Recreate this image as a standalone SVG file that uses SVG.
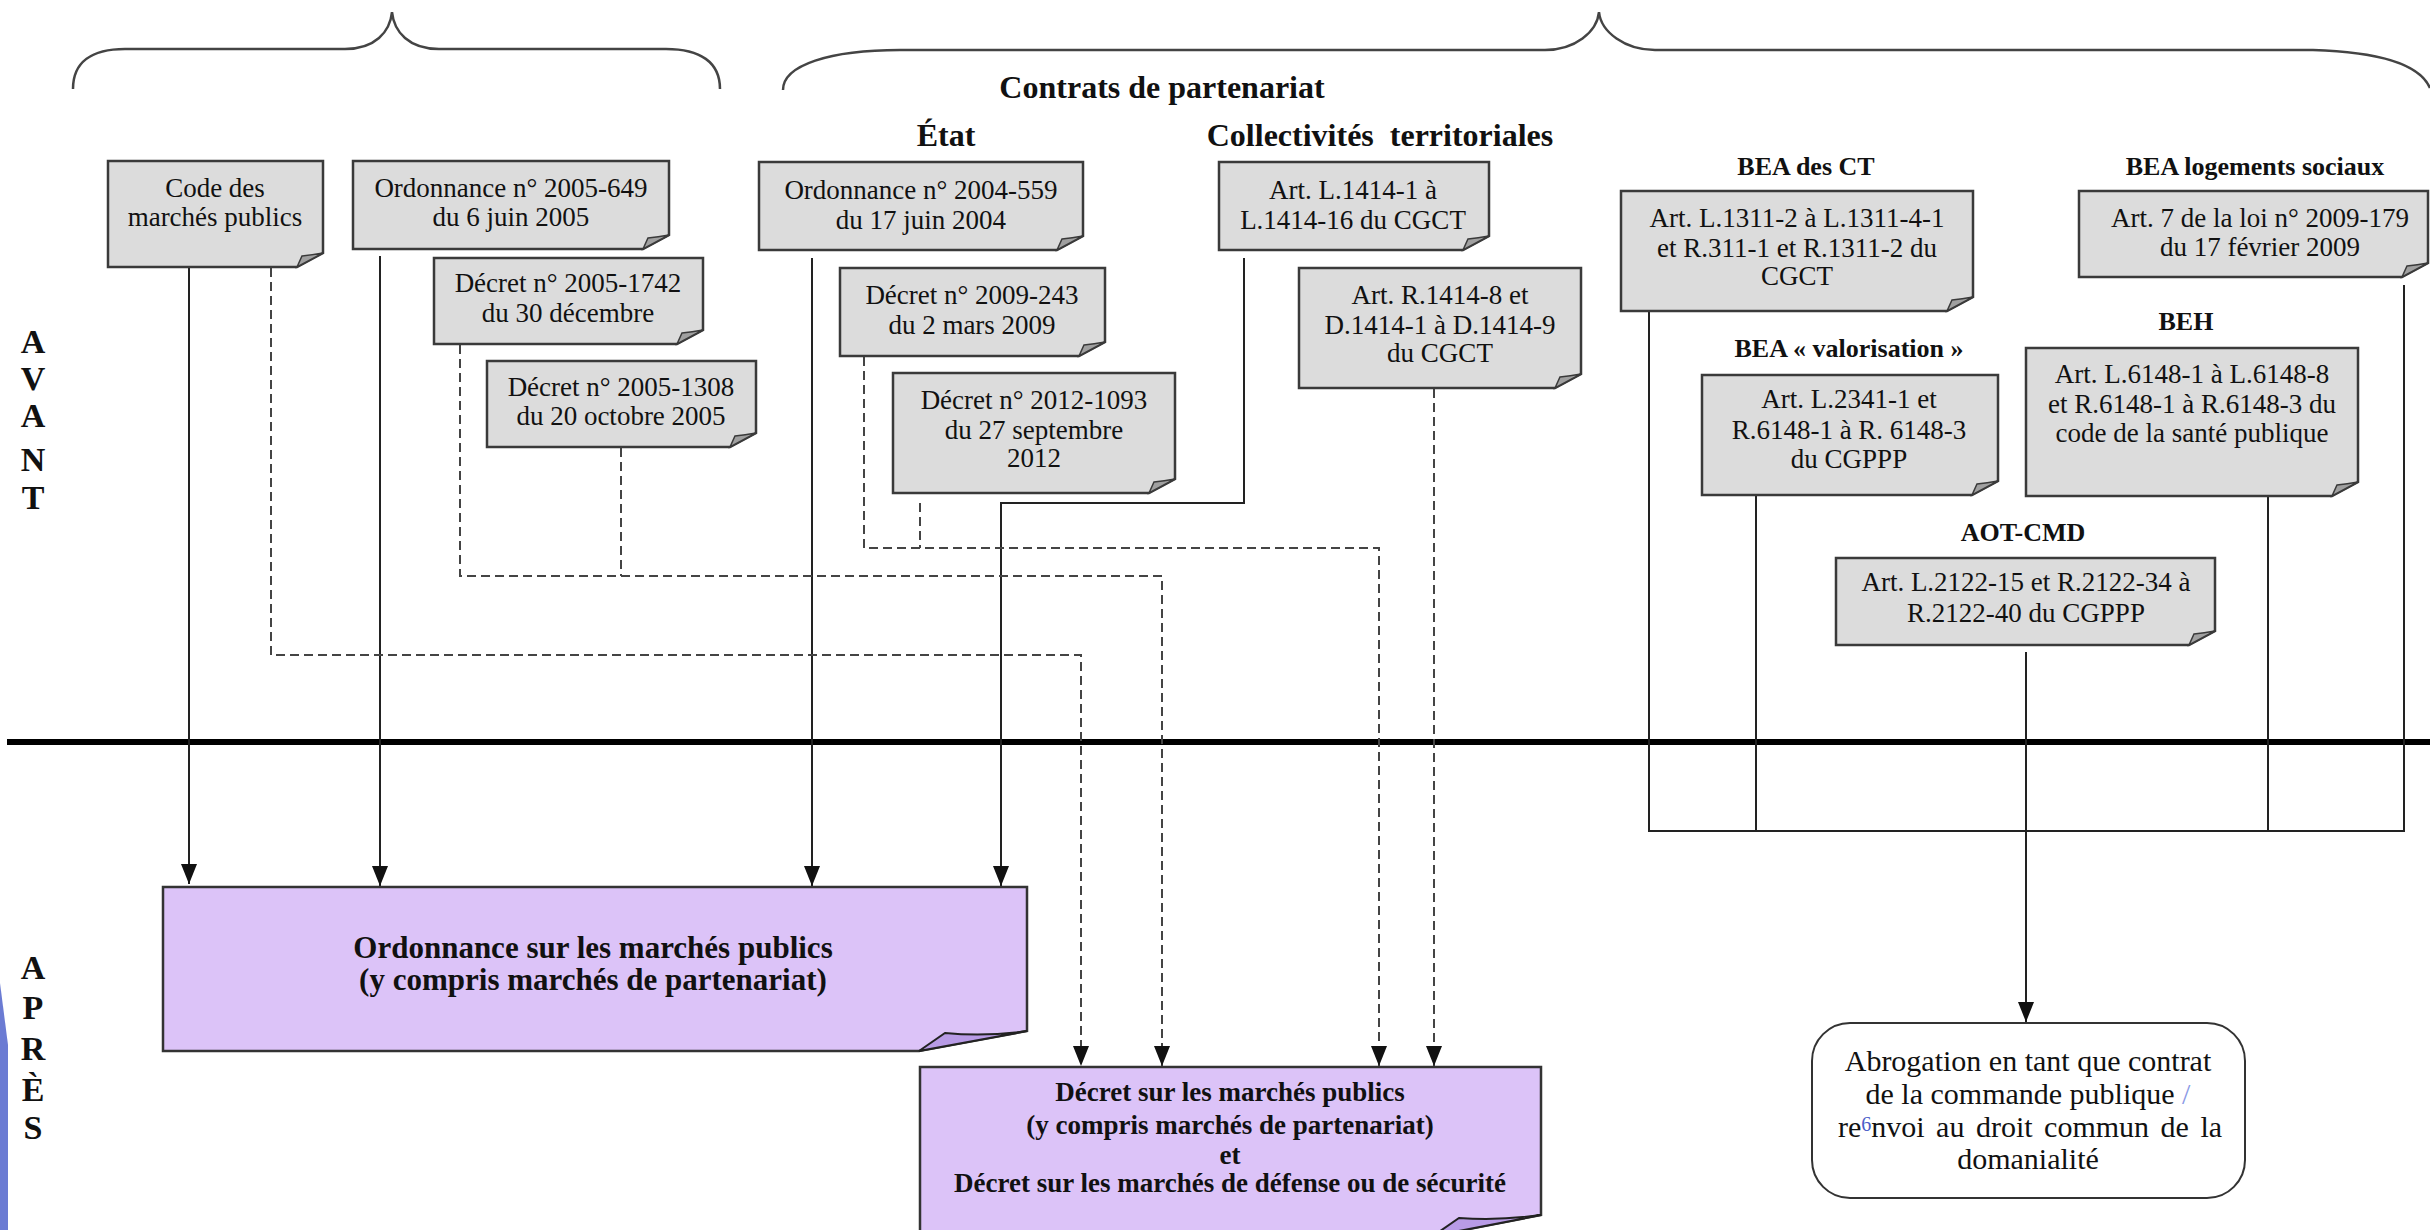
<svg xmlns="http://www.w3.org/2000/svg" width="2430" height="1230" viewBox="0 0 2430 1230">
<defs>
<style>
.t{font-family:"Liberation Serif","Times New Roman",serif;font-size:27px;fill:#111;text-anchor:middle}
.b{font-family:"Liberation Serif","Times New Roman",serif;font-weight:bold;fill:#111;text-anchor:middle}
.h{font-size:32px}
.l{font-size:26px}
.side{font-size:34px}
.big{font-size:31px}
.mid{font-size:27px}
.ab{font-family:"Liberation Serif","Times New Roman",serif;font-size:30px;fill:#111;text-anchor:middle}
.box{fill:#dcdcdc;stroke:#3a3a3a;stroke-width:2.5}
.flap{fill:#a0a0a0;stroke:#3a3a3a;stroke-width:1.5}
.pbox{fill:#dcc3f8;stroke:#333;stroke-width:2.5}
.pflap{fill:#b89be6;stroke:#222;stroke-width:2}
.sol{fill:none;stroke:#222;stroke-width:2}
.dash{fill:none;stroke:#444;stroke-width:2;stroke-dasharray:9 5}
.brace{fill:none;stroke:#444;stroke-width:2.5}
</style>
<marker id="arr" markerUnits="userSpaceOnUse" markerWidth="22" markerHeight="18" viewBox="0 -9 22 18" refX="20" refY="0" orient="auto"><path d="M0,-8 L20,0 L0,8 Z" fill="#111"/></marker>
</defs>
<rect width="2430" height="1230" fill="#fff"/>

<g id="braces">
<path class="brace" d="M73,89 C73,62 92,49 125,49 L345,49 C375,49 390,32 392,12 C394,32 409,49 439,49 L666,49 C700,49 720,62 720,89"/>
<path class="brace" d="M783,90 C783,65 830,50 900,50 L1545,50 C1575,50 1597,32 1599,12 C1601,32 1625,50 1655,50 L2313,50 C2380,52 2420,65 2430,88"/>
</g>

<g id="headings">
<text class="b h" x="1162" y="98">Contrats de partenariat</text>
<text class="b h" x="946" y="146">État</text>
<text class="b h" x="1380" y="146" xml:space="preserve">Collectivités  territoriales</text>
<text class="b l" x="1806" y="175">BEA des CT</text>
<text class="b l" x="2255" y="175">BEA logements sociaux</text>
<text class="b l" x="2186" y="330">BEH</text>
<text class="b l" x="1849" y="357">BEA « valorisation »</text>
<text class="b l" x="2023" y="541">AOT-CMD</text>
</g>

<g id="side-labels">
<text class="b side" x="33" y="353">A</text>
<text class="b side" x="33" y="390">V</text>
<text class="b side" x="33" y="427">A</text>
<text class="b side" x="33" y="471">N</text>
<text class="b side" x="33" y="509">T</text>
<text class="b side" x="33" y="979">A</text>
<text class="b side" x="33" y="1019">P</text>
<text class="b side" x="33" y="1060">R</text>
<text class="b side" x="33" y="1101">È</text>
<text class="b side" x="33" y="1139">S</text>
<polygon points="0,983 0,1230 8,1230 8,1045" fill="#6b7bd3"/>
</g>

<g id="separator">
<line x1="7" y1="742" x2="2430" y2="742" stroke="#000" stroke-width="6"/>
</g>

<g id="connectors">
<path class="sol" d="M189,268 V884" marker-end="url(#arr)"/>
<path class="sol" d="M380,256 V886" marker-end="url(#arr)"/>
<path class="sol" d="M812,258 V886" marker-end="url(#arr)"/>
<path class="sol" d="M1244,258 V503 H1001 V886" marker-end="url(#arr)"/>
<path class="dash" d="M271,268 V655 H1081 V1066" marker-end="url(#arr)"/>
<path class="dash" d="M460,345 V576 H1162 V1066" marker-end="url(#arr)"/>
<path class="dash" d="M621,448 V576"/>
<path class="dash" d="M864,357 V548 H1379 V1066" marker-end="url(#arr)"/>
<path class="dash" d="M920,503 V548"/>
<path class="dash" d="M1434,389 V1066" marker-end="url(#arr)"/>
<path class="sol" d="M1649,311 V831 H2404 V285"/>
<path class="sol" d="M1756,496 V831"/>
<path class="sol" d="M2268,497 V831"/>
<path class="sol" d="M2026,652 V1022" marker-end="url(#arr)"/>
</g>

<g id="n-code">
<path class="box" d="M108,161 H323 V253 L297,267 H108 Z"/>
<path class="flap" d="M297,267 L302,256 Q312,255 323,253 Z"/>
<text class="t" x="215" y="197">Code des</text>
<text class="t" x="215" y="226">marchés publics</text>
</g>
<g id="n-ord649">
<path class="box" d="M353,161 H669 V235 L643,249 H353 Z"/>
<path class="flap" d="M643,249 L648,238 Q658,237 669,235 Z"/>
<text class="t" x="511" y="197">Ordonnance n° 2005-649</text>
<text class="t" x="511" y="226">du 6 juin 2005</text>
</g>
<g id="n-dec1742">
<path class="box" d="M434,258 H703 V330 L677,344 H434 Z"/>
<path class="flap" d="M677,344 L682,333 Q692,332 703,330 Z"/>
<text class="t" x="568" y="292">Décret n° 2005-1742</text>
<text class="t" x="568" y="322">du 30 décembre</text>
</g>
<g id="n-dec1308">
<path class="box" d="M487,361 H756 V433 L730,447 H487 Z"/>
<path class="flap" d="M730,447 L735,436 Q745,435 756,433 Z"/>
<text class="t" x="621" y="396">Décret n° 2005-1308</text>
<text class="t" x="621" y="425">du 20 octobre 2005</text>
</g>
<g id="n-ord559">
<path class="box" d="M759,162 H1083 V236 L1057,250 H759 Z"/>
<path class="flap" d="M1057,250 L1062,239 Q1072,238 1083,236 Z"/>
<text class="t" x="921" y="199">Ordonnance n° 2004-559</text>
<text class="t" x="921" y="229">du 17 juin 2004</text>
</g>
<g id="n-artL1414">
<path class="box" d="M1219,162 H1489 V236 L1463,250 H1219 Z"/>
<path class="flap" d="M1463,250 L1468,239 Q1478,238 1489,236 Z"/>
<text class="t" x="1353" y="199">Art. L.1414-1 à</text>
<text class="t" x="1353" y="229">L.1414-16 du CGCT</text>
</g>
<g id="n-dec243">
<path class="box" d="M840,268 H1105 V342 L1079,356 H840 Z"/>
<path class="flap" d="M1079,356 L1084,345 Q1094,344 1105,342 Z"/>
<text class="t" x="972" y="304">Décret n° 2009-243</text>
<text class="t" x="972" y="334">du 2 mars 2009</text>
</g>
<g id="n-dec1093">
<path class="box" d="M893,373 H1175 V479 L1149,493 H893 Z"/>
<path class="flap" d="M1149,493 L1154,482 Q1164,481 1175,479 Z"/>
<text class="t" x="1034" y="409">Décret n° 2012-1093</text>
<text class="t" x="1034" y="439">du 27 septembre</text>
<text class="t" x="1034" y="467">2012</text>
</g>
<g id="n-artR1414">
<path class="box" d="M1299,268 H1581 V374 L1555,388 H1299 Z"/>
<path class="flap" d="M1555,388 L1560,377 Q1570,376 1581,374 Z"/>
<text class="t" x="1440" y="304">Art. R.1414-8 et</text>
<text class="t" x="1440" y="334">D.1414-1 à D.1414-9</text>
<text class="t" x="1440" y="362">du CGCT</text>
</g>
<g id="n-beact">
<path class="box" d="M1621,191 H1973 V297 L1947,311 H1621 Z"/>
<path class="flap" d="M1947,311 L1952,300 Q1962,299 1973,297 Z"/>
<text class="t" x="1797" y="227">Art. L.1311-2 à L.1311-4-1</text>
<text class="t" x="1797" y="257">et R.311-1 et R.1311-2 du</text>
<text class="t" x="1797" y="285">CGCT</text>
</g>
<g id="n-bealog">
<path class="box" d="M2079,191 H2428 V263 L2402,277 H2079 Z"/>
<path class="flap" d="M2402,277 L2407,266 Q2417,265 2428,263 Z"/>
<text class="t" x="2260" y="227">Art. 7 de la loi n° 2009-179</text>
<text class="t" x="2260" y="256">du 17 février 2009</text>
</g>
<g id="n-beaval">
<path class="box" d="M1702,375 H1998 V481 L1972,495 H1702 Z"/>
<path class="flap" d="M1972,495 L1977,484 Q1987,483 1998,481 Z"/>
<text class="t" x="1849" y="408">Art. L.2341-1 et</text>
<text class="t" x="1849" y="439">R.6148-1 à R. 6148-3</text>
<text class="t" x="1849" y="468">du CGPPP</text>
</g>
<g id="n-beh">
<path class="box" d="M2026,348 H2358 V482 L2332,496 H2026 Z"/>
<path class="flap" d="M2332,496 L2337,485 Q2347,484 2358,482 Z"/>
<text class="t" x="2192" y="383">Art. L.6148-1 à L.6148-8</text>
<text class="t" x="2192" y="413">et R.6148-1 à R.6148-3 du</text>
<text class="t" x="2192" y="442">code de la santé publique</text>
</g>
<g id="n-aot">
<path class="box" d="M1836,558 H2215 V631 L2189,645 H1836 Z"/>
<path class="flap" d="M2189,645 L2194,634 Q2204,633 2215,631 Z"/>
<text class="t" x="2026" y="591">Art. L.2122-15 et R.2122-34 à</text>
<text class="t" x="2026" y="622">R.2122-40 du CGPPP</text>
</g>

<g id="n-ordmp">
<path class="pbox" d="M163,887 H1027 V1031 L919,1051 H163 Z"/>
<path class="pflap" d="M919,1051 L945,1033 Q985,1037 1027,1031 Z"/>
<text class="b big" x="593" y="958">Ordonnance sur les marchés publics</text>
<text class="b big" x="593" y="990">(y compris marchés de partenariat)</text>
</g>
<g id="n-decmp">
<path class="pbox" d="M920,1067 H1541 V1215 L1433,1236 H920 Z"/>
<path class="pflap" d="M1433,1236 L1459,1218 Q1499,1221 1541,1215 Z"/>
<text class="b mid" x="1230" y="1101">Décret sur les marchés publics</text>
<text class="b mid" x="1230" y="1134">(y compris marchés de partenariat)</text>
<text class="b mid" x="1230" y="1164">et</text>
<text class="b mid" x="1230" y="1192">Décret sur les marchés de défense ou de sécurité</text>
</g>
<g id="n-abrog">
<rect x="1812" y="1023" width="433" height="175" rx="38" fill="#fff" stroke="#333" stroke-width="2"/>
<text class="ab" x="2028" y="1071">Abrogation en tant que contrat</text>
<text class="ab" x="2028" y="1104">de la commande publique <tspan fill="#8a9ae6">/</tspan></text>
<text class="ab" x="2030" y="1137" word-spacing="4">re<tspan fill="#4a5cc8" font-size="20" dy="-6">6</tspan><tspan dy="6">nvoi au droit commun de la</tspan></text>
<text class="ab" x="2028" y="1169">domanialité</text>
</g>
</svg>
